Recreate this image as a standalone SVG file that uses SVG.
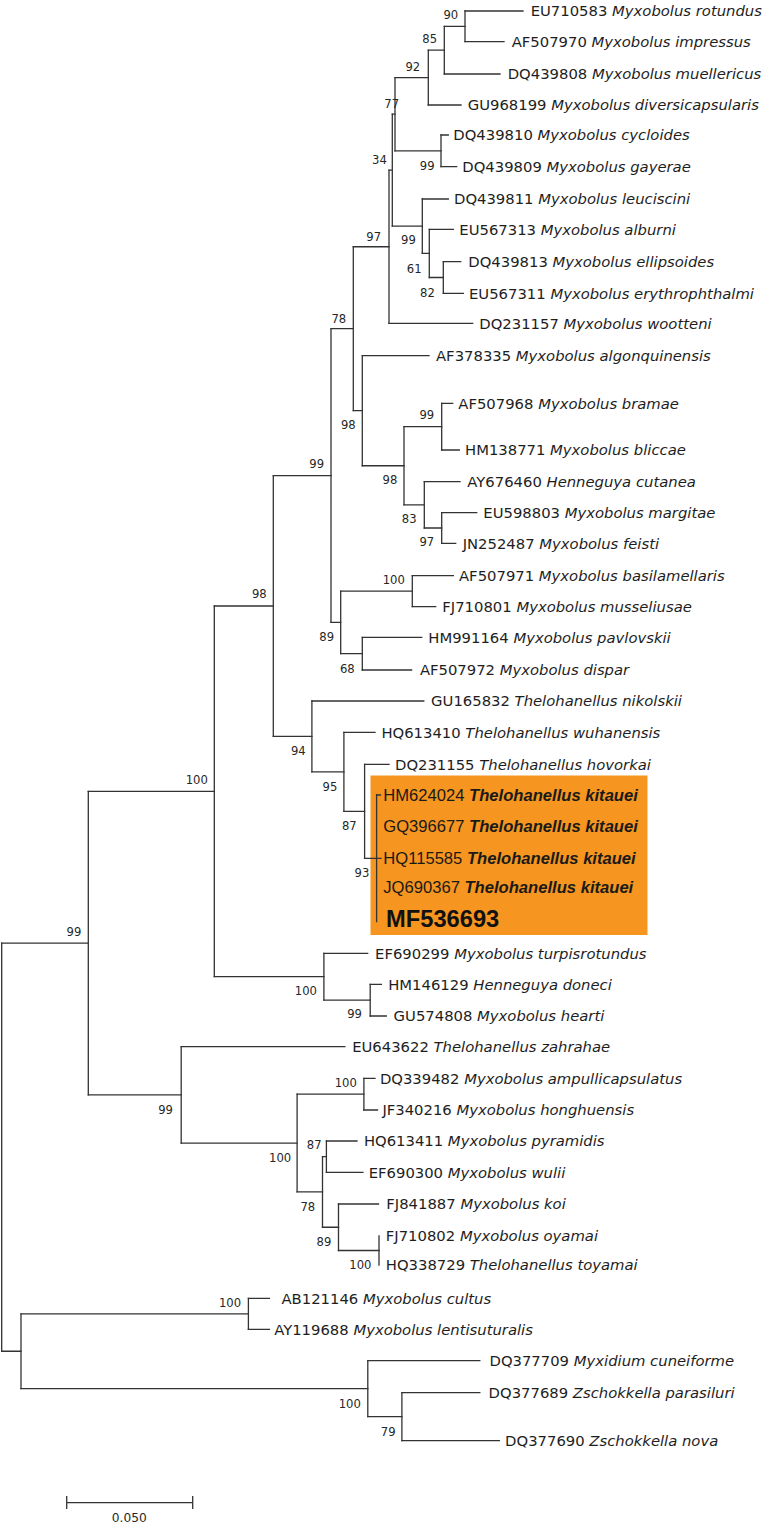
<svg xmlns="http://www.w3.org/2000/svg" width="766" height="1526" viewBox="0 0 766 1526">
<style>
.br{fill:none;stroke:#333;stroke-width:1.3;stroke-linecap:square}
.lf{font-family:"DejaVu Sans",Verdana,sans-serif;font-size:14.8px;fill:#1e1e1e}
.lf tspan.sp{font-style:italic}
.bs{font-family:"DejaVu Sans",Verdana,sans-serif;font-size:11.6px;fill:#262626;text-anchor:middle}
.kt{font-family:"Liberation Sans",Arial,sans-serif;font-size:16.6px;fill:#1a1a1a}
.kt tspan.sp{font-style:italic;font-weight:bold}
.mf{font-family:"Liberation Sans",Arial,sans-serif;font-size:23.7px;font-weight:bold;fill:#111}
</style>
<rect id="highlight" x="370.5" y="775.5" width="277" height="159.5" fill="#F6951F"/>
<g id="connectors" class="br">
<path d="M465 11V41.7M444.3 26.35V74M428.3 50.2V105M441 135V166.7M395 77.6V150.85M443.3 261.7V293.3M429.3 229.3V277.5M422.3 199V253.4M392.3 114.2V226.2M389 170.2V323.3M441.7 403.3V450M441.7 512.7V543.3M424.3 481.7V528M404 426.65V504.85M362.3 355.7V465.75M353.3 246.75V410.7M412.3 575.7V606.7M362.3 637.3V670M340.7 591.2V653.65M331 328.7V622.4M376.6 795V921.7M364.6 764.3V858.3M343.9 732.3V811.3M311.9 701V771.8M273.3 475.55V736.4M370.2 984.3V1016M323.9 953.3V1000.15M214.3 606V976.7M363.9 1078.3V1110M326.4 1141V1172.3M379 1236V1265M338.5 1204V1250.5M322.5 1156.65V1227.25M297.1 1094.15V1191.95M181.2 1046.7V1143.05M88.3 791.35V1094.9M248.4 1298.3V1329.3M401.9 1392.7V1440.7M367.8 1360.7V1416.7M21 1313.8V1388.7M1.7 943.1V1351.25"/>
<path d="M465 11H523M465 41.7H504M444.3 74H500M428.3 105H461M441 135H448.3M441 166.7H456.7M422.3 199H448.3M429.3 229.3H453.3M443.3 261.7H460.7M443.3 293.3H463.3M389 323.3H472.7M362.3 355.7H429M441.7 403.3H452.7M441.7 450H459.3M424.3 481.7H460M441.7 512.7H476.7M441.7 543.3H455.7M412.3 575.7H453.3M412.3 606.7H435.7M362.3 637.3H421.7M362.3 670H411.6M311.9 701H423.8M343.9 732.3H375M364.6 764.3H389M376.6 795H380.5M323.9 953.3H367.7M370.2 984.3H381.4M370.2 1016H386.3M181.2 1046.7H344.9M363.9 1078.3H375M363.9 1110H377.5M326.4 1141H357M326.4 1172.3H362.9M338.5 1204H378.5M248.4 1298.3H269.4M248.4 1329.3H269.4M367.8 1360.7H479.8M401.9 1392.7H479.8M401.9 1440.7H499.3"/>
<path d="M444.3 26.35H465M428.3 50.2H444.3M395 77.6H428.3M395 150.85H441M392.3 114.2H395M429.3 277.5H443.3M422.3 253.4H429.3M392.3 226.2H422.3M389 170.2H392.3M353.3 246.75H389M404 426.65H441.7M424.3 528H441.7M404 504.85H424.3M362.3 465.75H404M353.3 410.7H362.3M331 328.7H353.3M340.7 591.2H412.3M340.7 653.65H362.3M331 622.4H340.7M273.3 475.55H331M364.6 858.3H381M343.9 811.3H364.6M311.9 771.8H343.9M273.3 736.4H311.9M214.3 606H273.3M323.9 1000.15H370.2M214.3 976.7H323.9M88.3 791.35H214.3M297.1 1094.15H363.9M322.5 1156.65H326.4M338.5 1250.5H379M322.5 1227.25H338.5M297.1 1191.95H322.5M181.2 1143.05H297.1M88.3 1094.9H181.2M1.7 943.1H88.3M21 1313.8H248.4M367.8 1416.7H401.9M21 1388.7H367.8M1.7 1351.25H21"/>
</g>
<g id="leaves">
<g id="t1"><text class="lf" x="530.7" y="16.3">EU710583 <tspan class="sp">Myxobolus rotundus</tspan></text></g>
<g id="t2"><text class="lf" x="511.7" y="47">AF507970 <tspan class="sp">Myxobolus impressus</tspan></text></g>
<g id="t3"><text class="lf" x="507.7" y="79.3">DQ439808 <tspan class="sp">Myxobolus muellericus</tspan></text></g>
<g id="t4"><text class="lf" x="467.7" y="110.3">GU968199 <tspan class="sp">Myxobolus diversicapsularis</tspan></text></g>
<g id="t5"><text class="lf" x="453.3" y="140.3">DQ439810 <tspan class="sp">Myxobolus cycloides</tspan></text></g>
<g id="t6"><text class="lf" x="462.3" y="172">DQ439809 <tspan class="sp">Myxobolus gayerae</tspan></text></g>
<g id="t7"><text class="lf" x="454" y="204.3">DQ439811 <tspan class="sp">Myxobolus leuciscini</tspan></text></g>
<g id="t8"><text class="lf" x="459.3" y="234.6">EU567313 <tspan class="sp">Myxobolus alburni</tspan></text></g>
<g id="t9"><text class="lf" x="468.3" y="267">DQ439813 <tspan class="sp">Myxobolus ellipsoides</tspan></text></g>
<g id="t10"><text class="lf" x="469" y="298.6">EU567311 <tspan class="sp">Myxobolus erythrophthalmi</tspan></text></g>
<g id="t11"><text class="lf" x="479.3" y="328.6">DQ231157 <tspan class="sp">Myxobolus wootteni</tspan></text></g>
<g id="t12"><text class="lf" x="436" y="361">AF378335 <tspan class="sp">Myxobolus algonquinensis</tspan></text></g>
<g id="t13"><text class="lf" x="458.3" y="408.6">AF507968 <tspan class="sp">Myxobolus bramae</tspan></text></g>
<g id="t14"><text class="lf" x="465" y="455.3">HM138771 <tspan class="sp">Myxobolus bliccae</tspan></text></g>
<g id="t15"><text class="lf" x="467.3" y="487">AY676460 <tspan class="sp">Henneguya cutanea</tspan></text></g>
<g id="t16"><text class="lf" x="483.3" y="518">EU598803 <tspan class="sp">Myxobolus margitae</tspan></text></g>
<g id="t17"><text class="lf" x="462.7" y="548.6">JN252487 <tspan class="sp">Myxobolus feisti</tspan></text></g>
<g id="t18"><text class="lf" x="459" y="581">AF507971 <tspan class="sp">Myxobolus basilamellaris</tspan></text></g>
<g id="t19"><text class="lf" x="442.3" y="612">FJ710801 <tspan class="sp">Myxobolus musseliusae</tspan></text></g>
<g id="t20"><text class="lf" x="428.3" y="642.6">HM991164 <tspan class="sp">Myxobolus pavlovskii</tspan></text></g>
<g id="t21"><text class="lf" x="419.9" y="675.3">AF507972 <tspan class="sp">Myxobolus dispar</tspan></text></g>
<g id="t22"><text class="lf" x="431.1" y="706.3">GU165832 <tspan class="sp">Thelohanellus nikolskii</tspan></text></g>
<g id="t23"><text class="lf" x="381.4" y="737.6">HQ613410 <tspan class="sp">Thelohanellus wuhanensis</tspan></text></g>
<g id="t24"><text class="lf" x="395" y="769.6">DQ231155 <tspan class="sp">Thelohanellus hovorkai</tspan></text></g>
<g id="t25"><text class="kt" x="383.3" y="800.7">HM624024 <tspan class="sp">Thelohanellus kitauei</tspan></text></g>
<g id="t26"><text class="kt" x="383.3" y="831.7">GQ396677 <tspan class="sp">Thelohanellus kitauei</tspan></text></g>
<g id="t27"><text class="kt" x="383.3" y="864.3">HQ115585 <tspan class="sp">Thelohanellus kitauei</tspan></text></g>
<g id="t28"><text class="kt" x="383.3" y="893.3">JQ690367 <tspan class="sp">Thelohanellus kitauei</tspan></text></g>
<g id="t29"><text class="mf" x="386" y="926.7">MF536693</text></g>
<g id="t30"><text class="lf" x="375.1" y="958.6">EF690299 <tspan class="sp">Myxobolus turpisrotundus</tspan></text></g>
<g id="t31"><text class="lf" x="388.2" y="989.6">HM146129 <tspan class="sp">Henneguya doneci</tspan></text></g>
<g id="t32"><text class="lf" x="393.6" y="1021.3">GU574808 <tspan class="sp">Myxobolus hearti</tspan></text></g>
<g id="t33"><text class="lf" x="352.2" y="1052">EU643622 <tspan class="sp">Thelohanellus zahrahae</tspan></text></g>
<g id="t34"><text class="lf" x="379.9" y="1083.6">DQ339482 <tspan class="sp">Myxobolus ampullicapsulatus</tspan></text></g>
<g id="t35"><text class="lf" x="382.4" y="1115.3">JF340216 <tspan class="sp">Myxobolus honghuensis</tspan></text></g>
<g id="t36"><text class="lf" x="363.9" y="1146.3">HQ613411 <tspan class="sp">Myxobolus pyramidis</tspan></text></g>
<g id="t37"><text class="lf" x="368.7" y="1177.6">EF690300 <tspan class="sp">Myxobolus wulii</tspan></text></g>
<g id="t38"><text class="lf" x="386.3" y="1209.3">FJ841887 <tspan class="sp">Myxobolus koi</tspan></text></g>
<g id="t39"><text class="lf" x="385.8" y="1241.3">FJ710802 <tspan class="sp">Myxobolus oyamai</tspan></text></g>
<g id="t40"><text class="lf" x="385.8" y="1270.3">HQ338729 <tspan class="sp">Thelohanellus toyamai</tspan></text></g>
<g id="t41"><text class="lf" x="281.5" y="1303.6">AB121146 <tspan class="sp">Myxobolus cultus</tspan></text></g>
<g id="t42"><text class="lf" x="274.2" y="1334.6">AY119688 <tspan class="sp">Myxobolus lentisuturalis</tspan></text></g>
<g id="t43"><text class="lf" x="489.5" y="1366">DQ377709 <tspan class="sp">Myxidium cuneiforme</tspan></text></g>
<g id="t44"><text class="lf" x="488.6" y="1398">DQ377689 <tspan class="sp">Zschokkella parasiluri</tspan></text></g>
<g id="t45"><text class="lf" x="505.1" y="1446">DQ377690 <tspan class="sp">Zschokkella nova</tspan></text></g>
</g>
<g id="support">
<g id="n90"><text class="bs" x="450.8" y="19.4">90</text></g>
<g id="n85"><text class="bs" x="429.7" y="42.5">85</text></g>
<g id="n92"><text class="bs" x="412.8" y="70.9">92</text></g>
<g id="n77"><text class="bs" x="391.7" y="107.5">77</text></g>
<g id="n99a"><text class="bs" x="427.2" y="170">99</text></g>
<g id="n34"><text class="bs" x="379.5" y="164.2">34</text></g>
<g id="n99b"><text class="bs" x="408.5" y="244.2">99</text></g>
<g id="n61"><text class="bs" x="414.2" y="272.5">61</text></g>
<g id="n82"><text class="bs" x="427.5" y="296.5">82</text></g>
<g id="n97"><text class="bs" x="373.7" y="240.9">97</text></g>
<g id="n78"><text class="bs" x="338.8" y="322.5">78</text></g>
<g id="n99c"><text class="bs" x="426.8" y="419.2">99</text></g>
<g id="n98a"><text class="bs" x="348.3" y="429.2">98</text></g>
<g id="n99d"><text class="bs" x="316.7" y="468.2">99</text></g>
<g id="n98b"><text class="bs" x="390" y="484.2">98</text></g>
<g id="n83"><text class="bs" x="409.2" y="523.2">83</text></g>
<g id="n97b"><text class="bs" x="426.8" y="545.9">97</text></g>
<g id="n100a"><text class="bs" x="393.8" y="583.5">100</text></g>
<g id="n98c"><text class="bs" x="259.3" y="598.2">98</text></g>
<g id="n89"><text class="bs" x="326.7" y="640.9">89</text></g>
<g id="n68"><text class="bs" x="347.3" y="672.5">68</text></g>
<g id="n94"><text class="bs" x="298.3" y="755">94</text></g>
<g id="n100b"><text class="bs" x="196.7" y="784.2">100</text></g>
<g id="n95"><text class="bs" x="330" y="790.8">95</text></g>
<g id="n87"><text class="bs" x="349.3" y="830.2">87</text></g>
<g id="n93"><text class="bs" x="362" y="876.9">93</text></g>
<g id="n99e"><text class="bs" x="74" y="935.9">99</text></g>
<g id="n100d"><text class="bs" x="305.9" y="994.9">100</text></g>
<g id="n99g"><text class="bs" x="354.6" y="1018.2">99</text></g>
<g id="n100f"><text class="bs" x="345.8" y="1086.9">100</text></g>
<g id="n99f"><text class="bs" x="165.6" y="1113.5">99</text></g>
<g id="n87b"><text class="bs" x="314.2" y="1149.2">87</text></g>
<g id="n100e"><text class="bs" x="280.1" y="1161.5">100</text></g>
<g id="n78b"><text class="bs" x="307.8" y="1210.9">78</text></g>
<g id="n89b"><text class="bs" x="323.9" y="1245.9">89</text></g>
<g id="n100g"><text class="bs" x="360.4" y="1269.2">100</text></g>
<g id="n100c"><text class="bs" x="230" y="1306.9">100</text></g>
<g id="n100i"><text class="bs" x="349.7" y="1407.5">100</text></g>
<g id="n79"><text class="bs" x="388.2" y="1435.9">79</text></g>
</g>
<g id="scalebar">
<path class="br" d="M66.7 1502.7H192.7M66.7 1496.7V1508.3M192.7 1496.7V1508.3"/>
<text class="bs" x="129.2" y="1521.7" style="font-size:12.2px">0.050</text>
</g>
</svg>
